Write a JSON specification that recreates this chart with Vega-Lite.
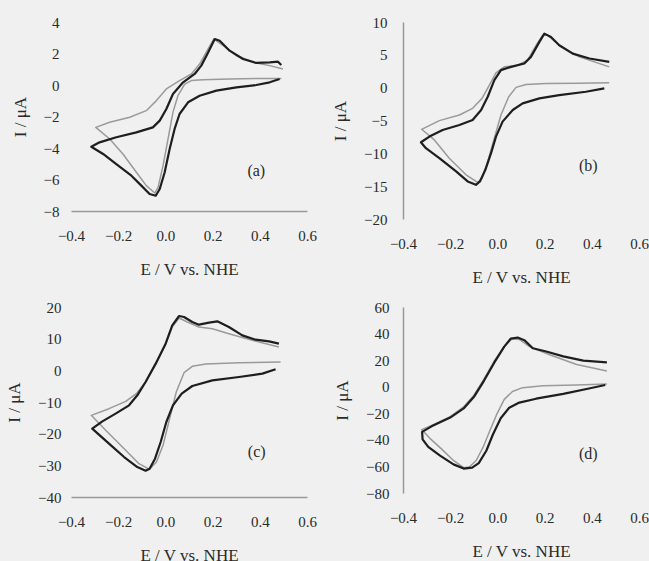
{
"$schema":"https://vega.github.io/schema/vega-lite/v6.json",
"background":"#f0f0f0",
"padding":{"left":5,"top":15,"right":5,"bottom":5},
"columns":2,
"spacing":{"row":88,"column":96},
"bounds":"flush",
"config":{
 "font":"Liberation Serif, serif",
 "view":{"stroke":null},
 "axis":{"labelFont":"Liberation Serif, serif","titleFont":"Liberation Serif, serif","labelFontSize":15,"titleFontSize":17,"titleFontWeight":"normal","labelColor":"#2a2a2a","titleColor":"#2a2a2a","grid":false,"ticks":false,"tickSize":0,"domainColor":"#999","domainWidth":1.5,"labelOverlap":false,"labelBound":false},
 "axisX":{"labelPadding":17,"titlePadding":18,"labelFlush":false},
 "axisY":{"labelPadding":12,"titlePadding":14},
 "text":{"font":"Liberation Serif, serif","fontSize":16,"color":"#2a2a2a"}
},
"datasets":{
"a":[
{"scan":"dark","n":1,"E":0.484,"I":0.38},{"scan":"dark","n":2,"E":0.442,"I":0.17},{"scan":"dark","n":3,"E":0.385,"I":0.0},{"scan":"dark","n":4,"E":0.301,"I":-0.15},{"scan":"dark","n":5,"E":0.216,"I":-0.36},{"scan":"dark","n":6,"E":0.145,"I":-0.68},{"scan":"dark","n":7,"E":0.096,"I":-1.10},{"scan":"dark","n":8,"E":0.060,"I":-1.84},{"scan":"dark","n":9,"E":0.039,"I":-2.79},{"scan":"dark","n":10,"E":0.018,"I":-4.06},{"scan":"dark","n":11,"E":-0.003,"I":-5.54},{"scan":"dark","n":12,"E":-0.024,"I":-6.60},{"scan":"dark","n":13,"E":-0.041,"I":-7.03},{"scan":"dark","n":14,"E":-0.067,"I":-6.92},{"scan":"dark","n":15,"E":-0.102,"I":-6.39},{"scan":"dark","n":16,"E":-0.144,"I":-5.76},{"scan":"dark","n":17,"E":-0.208,"I":-5.02},{"scan":"dark","n":18,"E":-0.264,"I":-4.38},{"scan":"dark","n":19,"E":-0.314,"I":-3.92},{"scan":"dark","n":20,"E":-0.279,"I":-3.64},{"scan":"dark","n":21,"E":-0.208,"I":-3.32},{"scan":"dark","n":22,"E":-0.123,"I":-3.01},{"scan":"dark","n":23,"E":-0.053,"I":-2.69},{"scan":"dark","n":24,"E":-0.024,"I":-2.26},{"scan":"dark","n":25,"E":0.004,"I":-1.52},{"scan":"dark","n":26,"E":0.032,"I":-0.57},{"scan":"dark","n":27,"E":0.075,"I":0.17},{"scan":"dark","n":28,"E":0.124,"I":0.70},{"scan":"dark","n":29,"E":0.152,"I":1.23},{"scan":"dark","n":30,"E":0.181,"I":2.07},{"scan":"dark","n":31,"E":0.209,"I":2.92},{"scan":"dark","n":32,"E":0.230,"I":2.81},{"scan":"dark","n":33,"E":0.272,"I":2.18},{"scan":"dark","n":34,"E":0.329,"I":1.65},{"scan":"dark","n":35,"E":0.385,"I":1.40},{"scan":"dark","n":36,"E":0.442,"I":1.44},{"scan":"dark","n":37,"E":0.477,"I":1.48},{"scan":"dark","n":38,"E":0.491,"I":1.27},
{"scan":"light","n":1,"E":0.491,"I":0.42},{"scan":"light","n":2,"E":0.385,"I":0.42},{"scan":"light","n":3,"E":0.272,"I":0.38},{"scan":"light","n":4,"E":0.159,"I":0.34},{"scan":"light","n":5,"E":0.110,"I":0.28},{"scan":"light","n":6,"E":0.082,"I":0.06},{"scan":"light","n":7,"E":0.053,"I":-0.68},{"scan":"light","n":8,"E":0.032,"I":-1.74},{"scan":"light","n":9,"E":0.011,"I":-3.43},{"scan":"light","n":10,"E":-0.010,"I":-5.12},{"scan":"light","n":11,"E":-0.031,"I":-6.50},{"scan":"light","n":12,"E":-0.045,"I":-6.86},{"scan":"light","n":13,"E":-0.081,"I":-6.39},{"scan":"light","n":14,"E":-0.123,"I":-5.54},{"scan":"light","n":15,"E":-0.180,"I":-4.38},{"scan":"light","n":16,"E":-0.236,"I":-3.43},{"scan":"light","n":17,"E":-0.295,"I":-2.69},{"scan":"light","n":18,"E":-0.236,"I":-2.37},{"scan":"light","n":19,"E":-0.151,"I":-2.05},{"scan":"light","n":20,"E":-0.081,"I":-1.63},{"scan":"light","n":21,"E":-0.038,"I":-0.99},{"scan":"light","n":22,"E":0.004,"I":-0.25},{"scan":"light","n":23,"E":0.060,"I":0.28},{"scan":"light","n":24,"E":0.110,"I":0.70},{"scan":"light","n":25,"E":0.145,"I":1.33},{"scan":"light","n":26,"E":0.181,"I":2.29},{"scan":"light","n":27,"E":0.205,"I":2.92},{"scan":"light","n":28,"E":0.245,"I":2.50},{"scan":"light","n":29,"E":0.301,"I":1.86},{"scan":"light","n":30,"E":0.385,"I":1.40},{"scan":"light","n":31,"E":0.442,"I":1.23},{"scan":"light","n":32,"E":0.498,"I":1.02}
],
"b":[
{"scan":"dark","n":1,"E":0.453,"I":-0.12},{"scan":"dark","n":2,"E":0.375,"I":-0.62},{"scan":"dark","n":3,"E":0.262,"I":-1.13},{"scan":"dark","n":4,"E":0.178,"I":-1.63},{"scan":"dark","n":5,"E":0.107,"I":-2.39},{"scan":"dark","n":6,"E":0.065,"I":-3.40},{"scan":"dark","n":7,"E":0.022,"I":-5.17},{"scan":"dark","n":8,"E":-0.006,"I":-7.45},{"scan":"dark","n":9,"E":-0.027,"I":-9.98},{"scan":"dark","n":10,"E":-0.051,"I":-12.51},{"scan":"dark","n":11,"E":-0.074,"I":-14.28},{"scan":"dark","n":12,"E":-0.091,"I":-14.79},{"scan":"dark","n":13,"E":-0.126,"I":-14.28},{"scan":"dark","n":14,"E":-0.175,"I":-12.76},{"scan":"dark","n":15,"E":-0.246,"I":-10.74},{"scan":"dark","n":16,"E":-0.303,"I":-9.22},{"scan":"dark","n":17,"E":-0.324,"I":-8.31},{"scan":"dark","n":18,"E":-0.288,"I":-7.45},{"scan":"dark","n":19,"E":-0.232,"I":-6.44},{"scan":"dark","n":20,"E":-0.161,"I":-5.68},{"scan":"dark","n":21,"E":-0.105,"I":-4.92},{"scan":"dark","n":22,"E":-0.069,"I":-3.40},{"scan":"dark","n":23,"E":-0.041,"I":-1.38},{"scan":"dark","n":24,"E":-0.013,"I":1.15},{"scan":"dark","n":25,"E":0.015,"I":2.67},{"scan":"dark","n":26,"E":0.058,"I":3.17},{"scan":"dark","n":27,"E":0.114,"I":3.68},{"scan":"dark","n":28,"E":0.142,"I":4.69},{"scan":"dark","n":29,"E":0.178,"I":6.97},{"scan":"dark","n":30,"E":0.199,"I":8.23},{"scan":"dark","n":31,"E":0.227,"I":7.72},{"scan":"dark","n":32,"E":0.262,"I":6.46},{"scan":"dark","n":33,"E":0.319,"I":5.19},{"scan":"dark","n":34,"E":0.390,"I":4.44},{"scan":"dark","n":35,"E":0.474,"I":3.93},
{"scan":"light","n":1,"E":0.474,"I":0.74},{"scan":"light","n":2,"E":0.347,"I":0.69},{"scan":"light","n":3,"E":0.206,"I":0.64},{"scan":"light","n":4,"E":0.121,"I":0.49},{"scan":"light","n":5,"E":0.079,"I":0.04},{"scan":"light","n":6,"E":0.048,"I":-1.38},{"scan":"light","n":7,"E":0.015,"I":-4.16},{"scan":"light","n":8,"E":-0.013,"I":-7.70},{"scan":"light","n":9,"E":-0.041,"I":-11.24},{"scan":"light","n":10,"E":-0.065,"I":-13.77},{"scan":"light","n":11,"E":-0.084,"I":-14.43},{"scan":"light","n":12,"E":-0.133,"I":-13.27},{"scan":"light","n":13,"E":-0.204,"I":-10.74},{"scan":"light","n":14,"E":-0.267,"I":-7.96},{"scan":"light","n":15,"E":-0.321,"I":-6.34},{"scan":"light","n":16,"E":-0.246,"I":-5.02},{"scan":"light","n":17,"E":-0.161,"I":-4.16},{"scan":"light","n":18,"E":-0.105,"I":-3.15},{"scan":"light","n":19,"E":-0.065,"I":-1.63},{"scan":"light","n":20,"E":-0.034,"I":0.39},{"scan":"light","n":21,"E":-0.006,"I":2.26},{"scan":"light","n":22,"E":0.029,"I":3.17},{"scan":"light","n":23,"E":0.086,"I":3.42},{"scan":"light","n":24,"E":0.128,"I":4.18},{"scan":"light","n":25,"E":0.164,"I":6.46},{"scan":"light","n":26,"E":0.192,"I":7.98},{"scan":"light","n":27,"E":0.213,"I":7.98},{"scan":"light","n":28,"E":0.262,"I":6.46},{"scan":"light","n":29,"E":0.347,"I":4.69},{"scan":"light","n":30,"E":0.474,"I":3.17}
],
"c":[
{"scan":"dark","n":1,"E":0.467,"I":0.32},{"scan":"dark","n":2,"E":0.411,"I":-1.05},{"scan":"dark","n":3,"E":0.312,"I":-2.11},{"scan":"dark","n":4,"E":0.199,"I":-3.16},{"scan":"dark","n":5,"E":0.114,"I":-4.95},{"scan":"dark","n":6,"E":0.069,"I":-7.37},{"scan":"dark","n":7,"E":0.032,"I":-11.05},{"scan":"dark","n":8,"E":0.004,"I":-16.32},{"scan":"dark","n":9,"E":-0.020,"I":-22.63},{"scan":"dark","n":10,"E":-0.044,"I":-27.89},{"scan":"dark","n":11,"E":-0.067,"I":-31.05},{"scan":"dark","n":12,"E":-0.084,"I":-31.68},{"scan":"dark","n":13,"E":-0.119,"I":-30.53},{"scan":"dark","n":14,"E":-0.175,"I":-27.37},{"scan":"dark","n":15,"E":-0.239,"I":-23.16},{"scan":"dark","n":16,"E":-0.310,"I":-18.42},{"scan":"dark","n":17,"E":-0.267,"I":-16.11},{"scan":"dark","n":18,"E":-0.211,"I":-13.68},{"scan":"dark","n":19,"E":-0.154,"I":-11.05},{"scan":"dark","n":20,"E":-0.119,"I":-7.89},{"scan":"dark","n":21,"E":-0.084,"I":-3.68},{"scan":"dark","n":22,"E":-0.041,"I":2.11},{"scan":"dark","n":23,"E":0.001,"I":8.42},{"scan":"dark","n":24,"E":0.029,"I":14.21},{"scan":"dark","n":25,"E":0.058,"I":17.16},{"scan":"dark","n":26,"E":0.079,"I":16.84},{"scan":"dark","n":27,"E":0.114,"I":15.26},{"scan":"dark","n":28,"E":0.142,"I":14.42},{"scan":"dark","n":29,"E":0.185,"I":15.05},{"scan":"dark","n":30,"E":0.220,"I":15.47},{"scan":"dark","n":31,"E":0.269,"I":13.68},{"scan":"dark","n":32,"E":0.326,"I":11.05},{"scan":"dark","n":33,"E":0.382,"I":9.68},{"scan":"dark","n":34,"E":0.439,"I":9.16},{"scan":"dark","n":35,"E":0.481,"I":8.42},
{"scan":"light","n":1,"E":0.488,"I":2.63},{"scan":"light","n":2,"E":0.312,"I":2.42},{"scan":"light","n":3,"E":0.171,"I":2.00},{"scan":"light","n":4,"E":0.114,"I":1.26},{"scan":"light","n":5,"E":0.079,"I":-0.74},{"scan":"light","n":6,"E":0.046,"I":-6.84},{"scan":"light","n":7,"E":0.018,"I":-15.26},{"scan":"light","n":8,"E":-0.010,"I":-23.68},{"scan":"light","n":9,"E":-0.038,"I":-28.95},{"scan":"light","n":10,"E":-0.067,"I":-31.26},{"scan":"light","n":11,"E":-0.112,"I":-29.47},{"scan":"light","n":12,"E":-0.182,"I":-24.21},{"scan":"light","n":13,"E":-0.253,"I":-18.95},{"scan":"light","n":14,"E":-0.314,"I":-14.21},{"scan":"light","n":15,"E":-0.239,"I":-12.11},{"scan":"light","n":16,"E":-0.168,"I":-9.79},{"scan":"light","n":17,"E":-0.123,"I":-7.37},{"scan":"light","n":18,"E":-0.084,"I":-3.68},{"scan":"light","n":19,"E":-0.041,"I":2.11},{"scan":"light","n":20,"E":0.001,"I":8.42},{"scan":"light","n":21,"E":0.029,"I":13.68},{"scan":"light","n":22,"E":0.058,"I":16.53},{"scan":"light","n":23,"E":0.093,"I":15.26},{"scan":"light","n":24,"E":0.142,"I":13.68},{"scan":"light","n":25,"E":0.199,"I":13.16},{"scan":"light","n":26,"E":0.269,"I":11.58},{"scan":"light","n":27,"E":0.368,"I":9.47},{"scan":"light","n":28,"E":0.481,"I":7.37}
],
"d":[
{"scan":"dark","n":1,"E":0.457,"I":1.26},{"scan":"dark","n":2,"E":0.393,"I":-1.18},{"scan":"dark","n":3,"E":0.279,"I":-5.35},{"scan":"dark","n":4,"E":0.164,"I":-9.02},{"scan":"dark","n":5,"E":0.093,"I":-11.95},{"scan":"dark","n":6,"E":0.050,"I":-15.87},{"scan":"dark","n":7,"E":0.014,"I":-23.70},{"scan":"dark","n":8,"E":-0.019,"I":-35.94},{"scan":"dark","n":9,"E":-0.047,"I":-48.17},{"scan":"dark","n":10,"E":-0.079,"I":-57.47},{"scan":"dark","n":11,"E":-0.107,"I":-60.90},{"scan":"dark","n":12,"E":-0.143,"I":-61.64},{"scan":"dark","n":13,"E":-0.186,"I":-58.45},{"scan":"dark","n":14,"E":-0.243,"I":-51.85},{"scan":"dark","n":15,"E":-0.293,"I":-45.24},{"scan":"dark","n":16,"E":-0.317,"I":-39.61},{"scan":"dark","n":17,"E":-0.319,"I":-33.98},{"scan":"dark","n":18,"E":-0.279,"I":-29.82},{"scan":"dark","n":19,"E":-0.200,"I":-23.21},{"scan":"dark","n":20,"E":-0.143,"I":-16.36},{"scan":"dark","n":21,"E":-0.100,"I":-7.79},{"scan":"dark","n":22,"E":-0.057,"I":4.44},{"scan":"dark","n":23,"E":-0.014,"I":17.91},{"scan":"dark","n":24,"E":0.029,"I":30.14},{"scan":"dark","n":25,"E":0.057,"I":36.26},{"scan":"dark","n":26,"E":0.086,"I":36.99},{"scan":"dark","n":27,"E":0.114,"I":35.04},{"scan":"dark","n":28,"E":0.150,"I":28.92},{"scan":"dark","n":29,"E":0.207,"I":26.47},{"scan":"dark","n":30,"E":0.279,"I":22.80},{"scan":"dark","n":31,"E":0.364,"I":19.62},{"scan":"dark","n":32,"E":0.464,"I":18.39},
{"scan":"light","n":1,"E":0.464,"I":2.00},{"scan":"light","n":2,"E":0.336,"I":1.26},{"scan":"light","n":3,"E":0.193,"I":0.77},{"scan":"light","n":4,"E":0.107,"I":-0.70},{"scan":"light","n":5,"E":0.064,"I":-3.63},{"scan":"light","n":6,"E":0.029,"I":-9.51},{"scan":"light","n":7,"E":-0.004,"I":-21.25},{"scan":"light","n":8,"E":-0.033,"I":-33.49},{"scan":"light","n":9,"E":-0.061,"I":-45.73},{"scan":"light","n":10,"E":-0.090,"I":-55.52},{"scan":"light","n":11,"E":-0.119,"I":-60.41},{"scan":"light","n":12,"E":-0.143,"I":-60.90},{"scan":"light","n":13,"E":-0.186,"I":-55.52},{"scan":"light","n":14,"E":-0.236,"I":-46.95},{"scan":"light","n":15,"E":-0.286,"I":-38.87},{"scan":"light","n":16,"E":-0.321,"I":-32.27},{"scan":"light","n":17,"E":-0.271,"I":-28.60},{"scan":"light","n":18,"E":-0.200,"I":-22.48},{"scan":"light","n":19,"E":-0.143,"I":-15.14},{"scan":"light","n":20,"E":-0.100,"I":-6.57},{"scan":"light","n":21,"E":-0.057,"I":5.67},{"scan":"light","n":22,"E":-0.014,"I":19.13},{"scan":"light","n":23,"E":0.029,"I":30.14},{"scan":"light","n":24,"E":0.061,"I":36.02},{"scan":"light","n":25,"E":0.093,"I":35.53},{"scan":"light","n":26,"E":0.136,"I":30.14},{"scan":"light","n":27,"E":0.221,"I":24.02},{"scan":"light","n":28,"E":0.336,"I":16.68},{"scan":"light","n":29,"E":0.464,"I":11.79}
]
},
"concat":[
{"width":236,"height":189,
 "encoding":{"x":{"field":"E","type":"quantitative","scale":{"domain":[-0.4,0.6],"nice":false,"zero":false},"axis":{"values":[-0.4,-0.2,0,0.2,0.4,0.6],"format":".1f","title":"E / V vs. NHE","domain":true,"labelOverlap":false}},
    "y":{"field":"I","type":"quantitative","scale":{"domain":[-8,4],"nice":false,"zero":false},"axis":{"values":[-8,-6,-4,-2,0,2,4],"title":"I / μA","domain":false,"labelOverlap":false}}},
 "layer":[
  {"data":{"name":"a"},"transform":[{"filter":"datum.scan == 'light'"}],"mark":{"type":"line","color":"#9a9a9a","strokeWidth":1.5,"strokeJoin":"round"},"encoding":{"order":{"field":"n","type":"quantitative"}}},
  {"data":{"name":"a"},"transform":[{"filter":"datum.scan == 'dark'"}],"mark":{"type":"line","color":"#1e1e1e","strokeWidth":2.2,"strokeJoin":"round"},"encoding":{"order":{"field":"n","type":"quantitative"}}},
  {"data":{"values":[{"label":"(a)","E":0.385,"I":-5.45}]},"mark":{"type":"text"},"encoding":{"text":{"field":"label"}}}
 ]},
{"width":236,"height":197,
 "encoding":{"x":{"field":"E","type":"quantitative","scale":{"domain":[-0.4,0.6],"nice":false,"zero":false},"axis":{"values":[-0.4,-0.2,0,0.2,0.4,0.6],"format":".1f","title":"E / V vs. NHE","domain":false,"labelOverlap":false}},
    "y":{"field":"I","type":"quantitative","scale":{"domain":[-20,10],"nice":false,"zero":false},"axis":{"values":[-20,-15,-10,-5,0,5,10],"title":"I / μA","domain":true,"labelPadding":16,"labelOverlap":false}}},
 "layer":[
  {"data":{"name":"b"},"transform":[{"filter":"datum.scan == 'light'"}],"mark":{"type":"line","color":"#9a9a9a","strokeWidth":1.5,"strokeJoin":"round"},"encoding":{"order":{"field":"n","type":"quantitative"}}},
  {"data":{"name":"b"},"transform":[{"filter":"datum.scan == 'dark'"}],"mark":{"type":"line","color":"#1e1e1e","strokeWidth":2.2,"strokeJoin":"round"},"encoding":{"order":{"field":"n","type":"quantitative"}}},
  {"data":{"values":[{"label":"(b)","E":0.385,"I":-11.9}]},"mark":{"type":"text"},"encoding":{"text":{"field":"label"}}}
 ]},
{"width":236,"height":190,
 "encoding":{"x":{"field":"E","type":"quantitative","scale":{"domain":[-0.4,0.6],"nice":false,"zero":false},"axis":{"values":[-0.4,-0.2,0,0.2,0.4,0.6],"format":".1f","title":"E / V vs. NHE","domain":true,"labelOverlap":false}},
    "y":{"field":"I","type":"quantitative","scale":{"domain":[-40,20],"nice":false,"zero":false},"axis":{"values":[-40,-30,-20,-10,0,10,20],"title":"I / μA","domain":false,"labelPadding":10,"labelOverlap":false}}},
 "layer":[
  {"data":{"name":"c"},"transform":[{"filter":"datum.scan == 'light'"}],"mark":{"type":"line","color":"#9a9a9a","strokeWidth":1.5,"strokeJoin":"round"},"encoding":{"order":{"field":"n","type":"quantitative"}}},
  {"data":{"name":"c"},"transform":[{"filter":"datum.scan == 'dark'"}],"mark":{"type":"line","color":"#1e1e1e","strokeWidth":2.2,"strokeJoin":"round"},"encoding":{"order":{"field":"n","type":"quantitative"}}},
  {"data":{"values":[{"label":"(c)","E":0.387,"I":-25.8}]},"mark":{"type":"text"},"encoding":{"text":{"field":"label"}}}
 ]},
{"width":236,"height":186,
 "encoding":{"x":{"field":"E","type":"quantitative","scale":{"domain":[-0.4,0.6],"nice":false,"zero":false},"axis":{"values":[-0.4,-0.2,0,0.2,0.4,0.6],"format":".1f","title":"E / V vs. NHE","domain":false,"labelOverlap":false}},
    "y":{"field":"I","type":"quantitative","scale":{"domain":[-80,60],"nice":false,"zero":false},"axis":{"values":[-80,-60,-40,-20,0,20,40,60],"title":"I / μA","domain":true,"labelPadding":14,"labelOverlap":false}}},
 "layer":[
  {"data":{"name":"d"},"transform":[{"filter":"datum.scan == 'light'"}],"mark":{"type":"line","color":"#9a9a9a","strokeWidth":1.5,"strokeJoin":"round"},"encoding":{"order":{"field":"n","type":"quantitative"}}},
  {"data":{"name":"d"},"transform":[{"filter":"datum.scan == 'dark'"}],"mark":{"type":"line","color":"#1e1e1e","strokeWidth":2.2,"strokeJoin":"round"},"encoding":{"order":{"field":"n","type":"quantitative"}}},
  {"data":{"values":[{"label":"(d)","E":0.385,"I":-50.5}]},"mark":{"type":"text"},"encoding":{"text":{"field":"label"}}}
 ]}
]
}
